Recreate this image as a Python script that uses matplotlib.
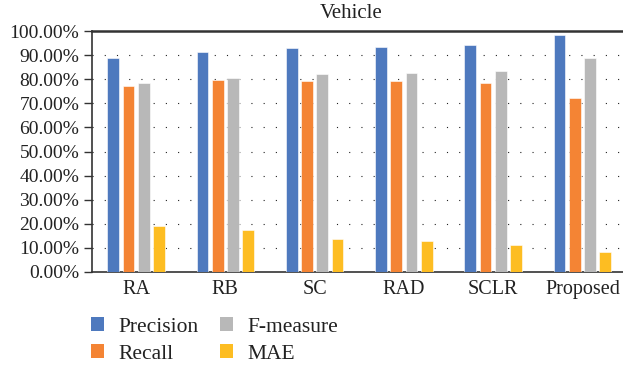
import matplotlib
matplotlib.use("Agg")
import matplotlib.pyplot as plt
from matplotlib.patches import Patch
import numpy as np

categories = ["RA", "RB", "SC", "RAD", "SCLR", "Proposed"]
precision = [89.0, 91.4, 92.9, 93.4, 94.0, 98.2]
recall = [77.2, 79.7, 79.2, 79.2, 78.3, 72.1]
fmeasure = [78.6, 80.7, 82.1, 82.4, 83.6, 88.9]
mae = [19.2, 17.5, 13.6, 12.9, 11.4, 8.5]
series_names = ["Precision", "Recall", "F-measure", "MAE"]
yticks = [0, 10, 20, 30, 40, 50, 60, 70, 80, 90, 100]
title = "Vehicle"

colors = ["#4E79BE", "#F48434", "#B8B8B8", "#FDBD22"]
serif = ["Liberation Serif", "DejaVu Serif"]

fig = plt.figure(figsize=(6.23, 3.73), dpi=100)
W, H = 623, 373
left, right, top, bottom = 91.5, 627, 31, 272
ax = fig.add_axes([left / W, 1 - bottom / H, (right - left) / W, (bottom - top) / H])

x = np.arange(len(categories))
slot = 0.171
bw = 0.134
data = [precision, recall, fmeasure, mae]
for i, (vals, c) in enumerate(zip(data, colors)):
    ax.bar(x + (i - 1.5) * slot, [v / 100 for v in vals], width=bw, color=c,
           edgecolor="white", linewidth=0.4, zorder=3)

ax.set_xlim(-0.5, len(categories) - 0.5)
ax.set_ylim(0, 1.0)
ax.set_yticks([t / 100 for t in yticks])
ax.set_yticklabels([f"{t:.2f}%" for t in yticks], fontfamily=serif, fontsize=14)
ax.set_xticks(x)
ax.set_xticklabels(categories, fontfamily=serif, fontsize=14.5)
ax.tick_params(axis="x", length=0, pad=6, colors="#222222")
ax.tick_params(axis="y", length=5.8, width=1, pad=3, colors="#333333")
for lab in ax.get_xticklabels() + ax.get_yticklabels():
    lab.set_color("#222222")

for t in yticks[1:-1]:
    ax.axhline(t / 100, color="#222222", lw=0.8, ls=(0, (1, 10)), zorder=1)

for s in ["left", "bottom", "top"]:
    ax.spines[s].set_color("#333333")
    ax.spines[s].set_linewidth(1.2)
ax.spines["top"].set_linewidth(1.8)
ax.spines["right"].set_visible(False)

fig.text(351 / W, 1 - 13.5 / H, title, ha="center", va="center",
         fontfamily=serif, fontsize=15, color="#222222")

handles = [Patch(facecolor=c, edgecolor="none") for c in colors]
leg = fig.legend(handles, series_names, loc="upper left",
                 bbox_to_anchor=(91 / W, 1 - 317 / H), ncol=2, frameon=False,
                 prop={"family": serif, "size": 15.5},
                 handlelength=0.62, handleheight=0.62, handletextpad=0.65,
                 columnspacing=1.0, labelspacing=0.35, borderaxespad=0, borderpad=0)
for t in leg.get_texts():
    t.set_color("#222222")

fig.savefig("out.png", dpi=100)
